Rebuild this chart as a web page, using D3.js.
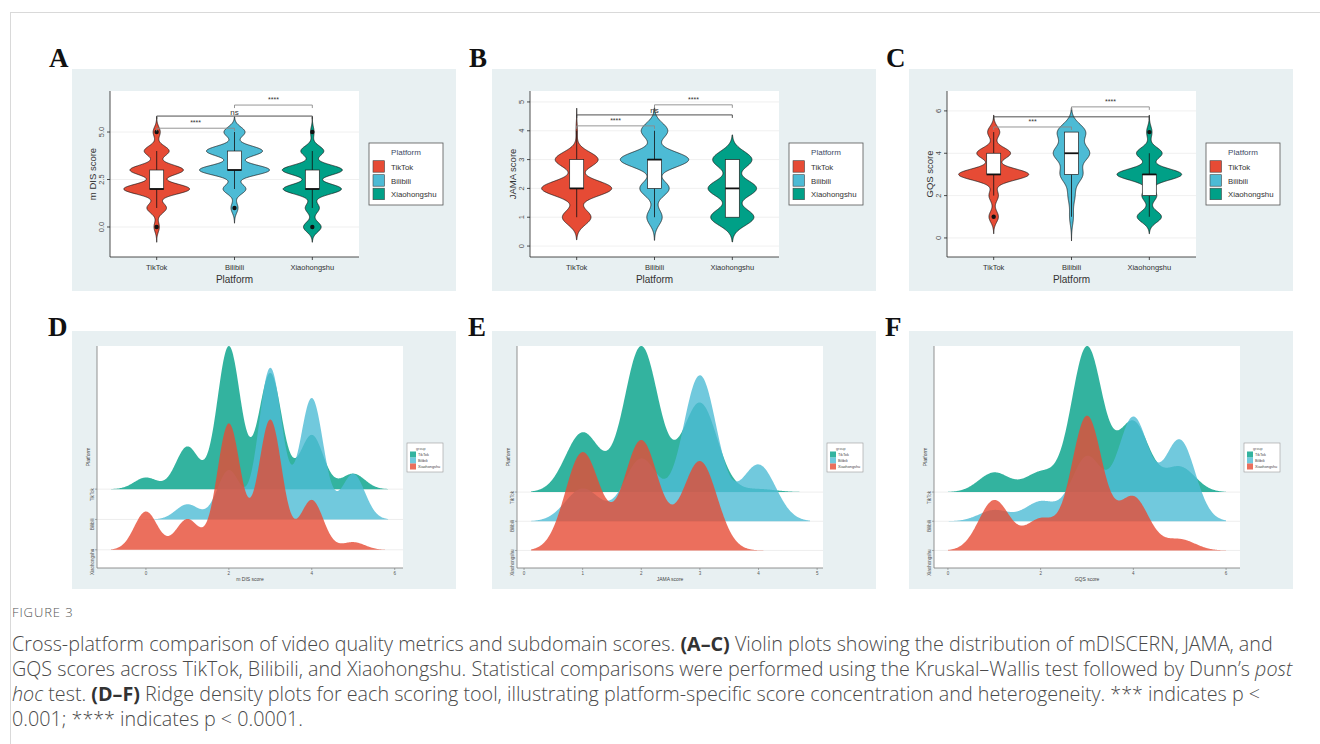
<!DOCTYPE html>
<html>
<head>
<meta charset="utf-8">
<script src="https://cdn.jsdelivr.net/npm/d3@7"></script>
<style>
  body { margin: 0; background: #fff; }
  svg { display: block; }
</style>
</head>
<body>
<svg id="fig" width="1320" height="744"></svg>
<script>
// ---------- data: number of videos at each score, per platform ----------
const platforms = ["TikTok", "Bilibili", "Xiaohongshu"];

const mdisScores = [0, 1, 2, 3, 4, 5];
const mdisTikTok = [3, 11, 37, 30, 14, 4];
const mdisBilibili = [0, 4, 13, 40, 32, 12];
const mdisXiaohongshu = [10, 8, 33, 34, 13, 2];

const jamaScores = [1, 2, 3, 4];
const jamaTikTok = [20, 49, 30, 1];
const jamaBilibili = [11, 21, 49, 19];
const jamaXiaohongshu = [33, 37, 30, 0];

const gqsScores = [1, 2, 3, 4, 5];
const gqsTikTok = [7, 7, 52, 25, 9];
const gqsBilibili = [4, 7, 23, 37, 29];
const gqsXiaohongshu = [18, 11, 48, 19, 4];

// axis ticks
const mdisTicks = [0, 2.5, 5];
const mdisTickLabels = ["0.0", "2.5", "5.0"];
const jamaTicks = [0, 1, 2, 3, 4, 5];
const gqsTicks = [0, 2, 4, 6];
const mdisRidgeTicks = [0, 2, 4, 6];
const jamaRidgeTicks = [0, 1, 2, 3, 4, 5];
const gqsRidgeTicks = [0, 2, 4, 6];

// pairwise comparisons: [group1, group2, bracket height (score units), label]
const mdisBrackets = [["TikTok", "Bilibili", 5.2, "****"], ["TikTok", "Xiaohongshu", 5.84, "ns"], ["Bilibili", "Xiaohongshu", 6.42, "****"]];
const jamaBrackets = [["TikTok", "Bilibili", 4.17, "****"], ["TikTok", "Xiaohongshu", 4.55, "ns"], ["Bilibili", "Xiaohongshu", 4.9, "****"]];
const gqsBrackets = [["TikTok", "Bilibili", 5.24, "***"], ["TikTok", "Xiaohongshu", 5.72, ""], ["Bilibili", "Xiaohongshu", 6.19, "****"]];

// ---------- styling ----------
const violinColors = ["#E64B35", "#4DBBD5", "#00A087"];   // TikTok, Bilibili, Xiaohongshu
const ridgeColors = ["#00A087", "#4DBBD5", "#E64B35"];    // TikTok, Bilibili, Xiaohongshu
const BG = "#e8f0f2";
const SANS = "'Liberation Sans', Arial, sans-serif";
const SERIF = "'Liberation Serif', 'Times New Roman', serif";

const svg = d3.select("#fig");

// ---------- helpers ----------
function expand(scores, counts) {
  const out = [];
  scores.forEach((s, i) => { for (let k = 0; k < counts[i]; k++) out.push(s); });
  return out;
}
function nrd0(v) {
  const s = v.slice().sort(d3.ascending);
  const sd = d3.deviation(s);
  const iqr = d3.quantile(s, 0.75) - d3.quantile(s, 0.25);
  let lo = Math.min(sd, iqr / 1.34);
  if (!(lo > 0)) lo = sd || 1;
  return 0.9 * lo * Math.pow(s.length, -0.2);
}
function kde(scores, counts, h, x) {
  const n = d3.sum(counts);
  let t = 0;
  scores.forEach((s, i) => { const z = (x - s) / h; t += counts[i] * Math.exp(-0.5 * z * z); });
  return t / (n * h * Math.sqrt(2 * Math.PI));
}
function grid512(lo, hi) { return d3.range(512).map(k => lo + (hi - lo) * k / 511); }

// ---------- frame ----------
svg.append("line").attr("x1", 10).attr("x2", 1320).attr("y1", 12.5).attr("y2", 12.5).attr("stroke", "#d9d9d9");
svg.append("line").attr("x1", 10.5).attr("x2", 10.5).attr("y1", 12).attr("y2", 744).attr("stroke", "#d9d9d9");

// ---------- violin + box panels ----------
function violinPanel(o) {
  const g = svg.append("g");
  g.append("rect").attr("x", o.px).attr("y", 69).attr("width", 384).attr("height", 222).attr("fill", BG);
  g.append("text").attr("x", o.px - 23).attr("y", 67).attr("font-family", SERIF).attr("font-weight", "bold")
    .attr("font-size", 27).attr("fill", "#111").text(o.letter);

  const left = o.px + 38, right = left + 249, top = 91, bottom = 257;
  g.append("rect").attr("x", left).attr("y", top).attr("width", right - left).attr("height", bottom - top).attr("fill", "#fff");

  const x = d3.scalePoint().domain(platforms).range([left, right]).padding(0.6);
  const y = d3.scaleLinear().domain(o.ydomain).range([bottom, top]);

  // grid
  g.selectAll(".gy").data(o.ticks).join("line")
    .attr("x1", left).attr("x2", right).attr("y1", d => y(d)).attr("y2", d => y(d))
    .attr("stroke", "#ececec").attr("stroke-width", 0.8);

  const groups = platforms.map((p, i) => {
    const counts = o.counts[i];
    const values = expand(o.scores, counts).sort(d3.ascending);
    const bw = nrd0(values);
    const xs = grid512(values[0] - 3 * bw, values[values.length - 1] + 3 * bw);
    const d = xs.map(v => kde(o.scores, counts, bw, v));
    return { p, i, values, xs, d };
  });
  const maxD = d3.max(groups, gr => d3.max(gr.d));
  const w = d3.scaleLinear().domain([0, maxD]).range([0, 0.45 * x.step()]);

  groups.forEach(gr => {
    const cx = x(gr.p);
    const area = d3.area()
      .y((d, k) => y(gr.xs[k]))
      .x0(d => cx - w(d))
      .x1(d => cx + w(d));
    g.append("path").attr("d", area(gr.d)).attr("fill", violinColors[gr.i])
      .attr("stroke", "#111").attr("stroke-width", 0.7);

    // box plot
    const v = gr.values;
    const q1 = d3.quantile(v, 0.25), med = d3.quantile(v, 0.5), q3 = d3.quantile(v, 0.75);
    const iqr = q3 - q1;
    const inside = v.filter(t => t >= q1 - 1.5 * iqr && t <= q3 + 1.5 * iqr);
    const lw = d3.min(inside), hw = d3.max(inside);
    const outl = Array.from(new Set(v.filter(t => t < q1 - 1.5 * iqr || t > q3 + 1.5 * iqr)));
    const bw2 = 0.18 * x.step();
    g.append("line").attr("x1", cx).attr("x2", cx).attr("y1", y(hw)).attr("y2", y(q3)).attr("stroke", "#111").attr("stroke-width", 0.8);
    g.append("line").attr("x1", cx).attr("x2", cx).attr("y1", y(q1)).attr("y2", y(lw)).attr("stroke", "#111").attr("stroke-width", 0.8);
    g.append("rect").attr("x", cx - bw2 / 2).attr("width", bw2).attr("y", y(q3)).attr("height", y(q1) - y(q3))
      .attr("fill", "#fff").attr("stroke", "#222").attr("stroke-width", 0.7);
    g.append("line").attr("x1", cx - bw2 / 2).attr("x2", cx + bw2 / 2).attr("y1", y(med)).attr("y2", y(med))
      .attr("stroke", "#111").attr("stroke-width", 1.8);
    g.selectAll(null).data(outl).join("circle").attr("cx", cx).attr("cy", d => y(d)).attr("r", 2.2).attr("fill", "#111");
  });

  // significance brackets
  o.brackets.forEach((b, k) => {
    const x1 = x(b[0]), x2 = x(b[1]), yy = y(b[2]);
    const col = k === 1 ? "#3a3a3a" : "#8a8a8a";
    g.append("path").attr("d", `M${x1},${yy + 3}V${yy}H${x2}V${yy + 3}`).attr("fill", "none")
      .attr("stroke", col).attr("stroke-width", 0.9);
    if (b[3]) g.append("text").attr("x", (x1 + x2) / 2).attr("y", b[3] === "ns" ? yy - 1.5 : yy - 3)
      .attr("text-anchor", "middle").attr("font-family", SANS).attr("font-size", b[3] === "ns" ? 8 : 7)
      .attr("fill", "#333").text(b[3]);
  });

  // axes
  g.append("line").attr("x1", left).attr("x2", left).attr("y1", top).attr("y2", bottom).attr("stroke", "#222").attr("stroke-width", 0.8);
  g.append("line").attr("x1", left).attr("x2", right).attr("y1", bottom).attr("y2", bottom).attr("stroke", "#222").attr("stroke-width", 0.8);
  g.selectAll(".ty").data(o.ticks).join("line")
    .attr("x1", left - 3).attr("x2", left).attr("y1", d => y(d)).attr("y2", d => y(d)).attr("stroke", "#222").attr("stroke-width", 0.8);
  g.selectAll(".tyl").data(o.ticks).join("text")
    .attr("transform", d => `translate(${left - 6},${y(d)}) rotate(-90)`)
    .attr("text-anchor", "middle").attr("font-family", SANS).attr("font-size", 7.5).attr("fill", "#4d4d4d")
    .text((d, k) => o.tickLabels ? o.tickLabels[k] : d);
  g.selectAll(".tx").data(platforms).join("line")
    .attr("x1", d => x(d)).attr("x2", d => x(d)).attr("y1", bottom).attr("y2", bottom + 3).attr("stroke", "#222").attr("stroke-width", 0.8);
  g.selectAll(".txl").data(platforms).join("text")
    .attr("x", d => x(d)).attr("y", 270).attr("text-anchor", "middle").attr("font-family", SANS)
    .attr("font-size", 7.5).attr("fill", "#333").text(d => d);
  g.append("text").attr("x", (left + right) / 2).attr("y", 283).attr("text-anchor", "middle")
    .attr("font-family", SANS).attr("font-size", 10).attr("fill", "#333").text("Platform");
  g.append("text").attr("transform", `translate(${left - 14},${(top + bottom) / 2}) rotate(-90)`)
    .attr("text-anchor", "middle").attr("font-family", SANS).attr("font-size", 9.5).attr("fill", "#333").text(o.ylabel);

  // legend
  const lx = o.px + 297;
  g.append("rect").attr("x", lx).attr("y", 143).attr("width", 74).attr("height", 62).attr("fill", "#fff")
    .attr("stroke", "#555").attr("stroke-width", 0.8);
  g.append("text").attr("x", lx + 37).attr("y", 155).attr("text-anchor", "middle").attr("font-family", SANS)
    .attr("font-size", 8).attr("fill", "#3d4a66").text("Platform");
  const rows = [166.5, 180.5, 194];
  platforms.forEach((p, i) => {
    g.append("rect").attr("x", lx + 4).attr("y", rows[i] - 5.8).attr("width", 11.5).attr("height", 11.5)
      .attr("fill", violinColors[i]).attr("stroke", "#444").attr("stroke-width", 0.6);
    g.append("text").attr("x", lx + 22).attr("y", rows[i] + 3).attr("font-family", SANS).attr("font-size", 7.8)
      .attr("fill", "#333").text(p);
  });
}

// ---------- ridge density panels ----------
function ridgePanel(o) {
  const g = svg.append("g");
  g.append("rect").attr("x", o.px).attr("y", 331).attr("width", 384).attr("height", 258).attr("fill", BG);
  g.append("text").attr("x", o.px - 24).attr("y", 336).attr("font-family", SERIF).attr("font-weight", "bold")
    .attr("font-size", 27).attr("fill", "#111").text(o.letter);

  const left = o.left, right = left + 306, top = 346, bottom = 568;
  g.append("rect").attr("x", left).attr("y", top).attr("width", right - left).attr("height", bottom - top).attr("fill", "#fff");

  const x = d3.scaleLinear().domain(o.xdomain).range([left, right]);
  const all = o.counts.flatMap(c => expand(o.scores, c));
  const xs = grid512(d3.min(all) - 3 * o.bw, d3.max(all) + 3 * o.bw);
  const dens = o.counts.map(c => xs.map(v => kde(o.scores, c, o.bw, v)));
  const maxD = d3.max(dens, d => d3.max(d));
  const pos = [3, 2, 1];
  const heights = dens.map(d => d.map(v => 5 * v / maxD));
  const ytop = Math.max(3.6, d3.max(heights, (h, i) => pos[i] + d3.max(h)));
  const y = d3.scaleLinear().domain([0.4, ytop]).range([bottom, top]);

  g.selectAll(".gl").data(pos).join("line")
    .attr("x1", left).attr("x2", right).attr("y1", d => y(d)).attr("y2", d => y(d))
    .attr("stroke", "#ececec").attr("stroke-width", 0.9);

  heights.forEach((h, i) => {
    const area = d3.area().x((d, k) => x(xs[k])).y0(y(pos[i])).y1(d => y(pos[i] + d));
    g.append("path").attr("d", area(h)).attr("fill", ridgeColors[i]).attr("fill-opacity", 0.8);
  });

  // axes
  g.append("line").attr("x1", left).attr("x2", left).attr("y1", top).attr("y2", bottom).attr("stroke", "#777").attr("stroke-width", 0.8);
  g.append("line").attr("x1", left).attr("x2", right).attr("y1", bottom).attr("y2", bottom).attr("stroke", "#777").attr("stroke-width", 0.8);
  g.selectAll(".tx").data(o.ticks).join("line")
    .attr("x1", d => x(d)).attr("x2", d => x(d)).attr("y1", bottom).attr("y2", bottom + 2).attr("stroke", "#777").attr("stroke-width", 0.6);
  g.selectAll(".txl").data(o.ticks).join("text")
    .attr("x", d => x(d)).attr("y", 575).attr("text-anchor", "middle").attr("font-family", SANS)
    .attr("font-size", 4.5).attr("fill", "#555").text(d => d);
  g.append("text").attr("x", (left + right) / 2).attr("y", 580.5).attr("text-anchor", "middle").attr("font-family", SANS)
    .attr("font-size", 5).attr("fill", "#444").text(o.xlabel);
  g.selectAll(".ty").data(pos).join("line")
    .attr("x1", left - 2).attr("x2", left).attr("y1", d => y(d)).attr("y2", d => y(d)).attr("stroke", "#777").attr("stroke-width", 0.6);
  g.selectAll(".tyl").data(platforms).join("text")
    .attr("transform", (d, i) => `translate(${left - 3},${y(pos[i]) - 1}) rotate(-90)`)
    .attr("text-anchor", "end").attr("font-family", SANS).attr("font-size", 4.5).attr("fill", "#555").text(d => d);
  g.append("text").attr("transform", `translate(${left - 7},${(top + bottom) / 2}) rotate(-90)`)
    .attr("text-anchor", "middle").attr("font-family", SANS).attr("font-size", 5).attr("fill", "#444").text("Platform");

  // legend
  const lx = o.px + 335;
  g.append("rect").attr("x", lx).attr("y", 443).attr("width", 36).attr("height", 29).attr("fill", "#fff")
    .attr("stroke", "#999").attr("stroke-width", 0.6);
  g.append("text").attr("x", lx + 9).attr("y", 449.5).attr("font-family", SANS).attr("font-size", 3.8)
    .attr("fill", "#666").text("group");
  const rows = [454.5, 460.5, 466.5];
  platforms.forEach((p, i) => {
    g.append("rect").attr("x", lx + 3).attr("y", rows[i] - 3).attr("width", 6).attr("height", 6)
      .attr("fill", ridgeColors[i]).attr("fill-opacity", 0.8);
    g.append("text").attr("x", lx + 11).attr("y", rows[i] + 1.5).attr("font-family", SANS).attr("font-size", 3.8)
      .attr("fill", "#444").text(p);
  });
}

violinPanel({ letter: "A", px: 72, scores: mdisScores, counts: [mdisTikTok, mdisBilibili, mdisXiaohongshu],
  ydomain: [-1.58, 7.16], ticks: mdisTicks, tickLabels: mdisTickLabels, brackets: mdisBrackets, ylabel: "m DIS score" });
violinPanel({ letter: "B", px: 492, scores: jamaScores, counts: [jamaTikTok, jamaBilibili, jamaXiaohongshu],
  ydomain: [-0.38, 5.38], ticks: jamaTicks, brackets: jamaBrackets, ylabel: "JAMA score" });
violinPanel({ letter: "C", px: 909, scores: gqsScores, counts: [gqsTikTok, gqsBilibili, gqsXiaohongshu],
  ydomain: [-0.9, 6.94], ticks: gqsTicks, brackets: gqsBrackets, ylabel: "GQS score" });

ridgePanel({ letter: "D", px: 72, left: 97, scores: mdisScores, counts: [mdisTikTok, mdisBilibili, mdisXiaohongshu],
  xdomain: [-1.18, 6.2], bw: 0.28, ticks: mdisRidgeTicks, xlabel: "m DIS score" });
ridgePanel({ letter: "E", px: 492, left: 517, scores: jamaScores, counts: [jamaTikTok, jamaBilibili, jamaXiaohongshu],
  xdomain: [-0.12, 5.1], bw: 0.293, ticks: jamaRidgeTicks, xlabel: "JAMA score" });
ridgePanel({ letter: "F", px: 909, left: 934, scores: gqsScores, counts: [gqsTikTok, gqsBilibili, gqsXiaohongshu],
  xdomain: [-0.3, 6.3], bw: 0.333, ticks: gqsRidgeTicks, xlabel: "GQS score" });

// ---------- caption ----------
const CAP = "'Open Sans', 'Noto Sans', sans-serif";
svg.append("text").attr("x", 12).attr("y", 617).attr("font-family", CAP).attr("font-size", 13)
  .attr("font-weight", 300).attr("letter-spacing", 0.9).attr("fill", "#555").text("FIGURE 3");

const captionLines = [
  [["Cross-platform comparison of video quality metrics and subdomain scores. ", ""], ["(A–C)", "b"], [" Violin plots showing the distribution of mDISCERN, JAMA, and", ""]],
  [["GQS scores across TikTok, Bilibili, and Xiaohongshu. Statistical comparisons were performed using the Kruskal–Wallis test followed by Dunn’s ", ""], ["post", "i"]],
  [["hoc", "i"], [" test. ", ""], ["(D–F)", "b"], [" Ridge density plots for each scoring tool, illustrating platform-specific score concentration and heterogeneity. *** indicates p <", ""]],
  [["0.001; **** indicates p < 0.0001.", ""]]
];
const lineY = [651, 676, 701, 726];
const capNodes = captionLines.map((parts, li) => {
  const t = svg.append("text").attr("x", 12).attr("y", lineY[li]).attr("font-family", CAP)
    .attr("font-size", 16).attr("font-weight", 300).attr("fill", "#4a4a4a");
  parts.forEach(([s, st]) => {
    const ts = t.append("tspan").text(s);
    if (st === "b") ts.attr("font-weight", "bold").attr("fill", "#333");
    if (st === "i") ts.attr("font-style", "italic");
  });
  return t;
});
// size the caption so its first line spans the text column
const firstLen = capNodes[0].node().getComputedTextLength();
const capSize = 16 * 1261 / firstLen;
capNodes.forEach(t => t.attr("font-size", capSize));
</script>
</body>
</html>
